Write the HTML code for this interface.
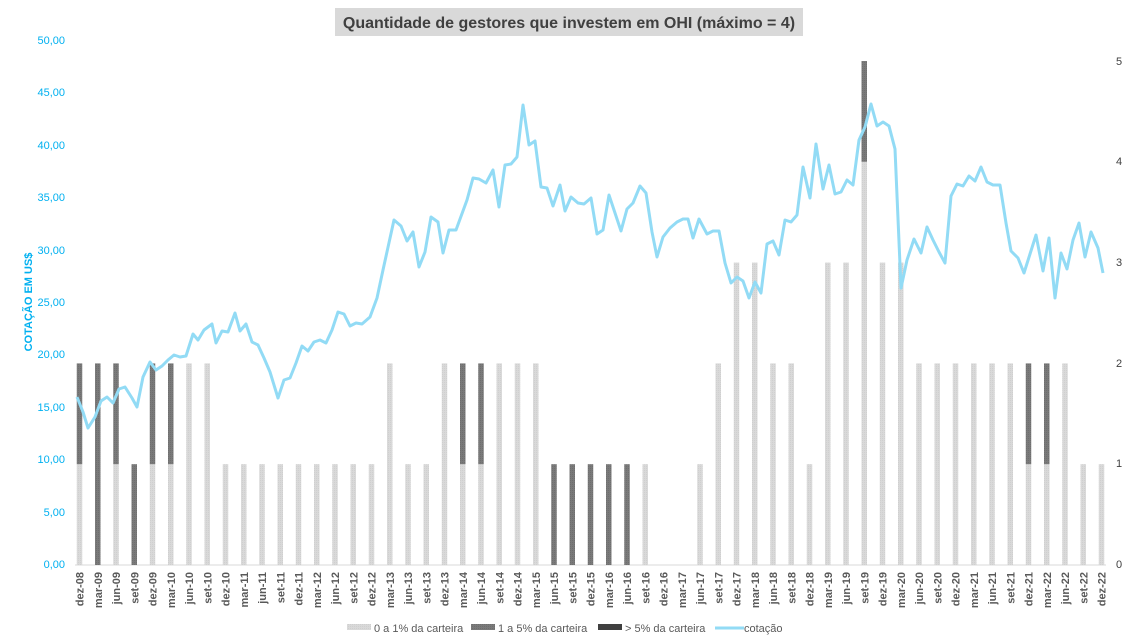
<!DOCTYPE html>
<html><head><meta charset="utf-8"><style>
body{margin:0;background:#fff;}
svg{display:block;font-family:"Liberation Sans",sans-serif;}
</style></head><body>
<svg width="1138" height="643" viewBox="0 0 1138 643" xmlns="http://www.w3.org/2000/svg">
<defs>
<pattern id="lt" width="2" height="2" patternUnits="userSpaceOnUse"><rect width="2" height="2" fill="#d9d9d9"/><rect width="1" height="1" fill="#cfcfcf"/></pattern>
<pattern id="dk" width="2" height="2" patternUnits="userSpaceOnUse"><rect width="2" height="2" fill="#7a7a7a"/><rect width="1" height="1" fill="#6e6e6e"/></pattern>
</defs>
<rect x="335" y="8" width="468" height="28" fill="#d9d9d9"/>
<text x="569" y="28" text-anchor="middle" font-size="16" font-weight="bold" fill="#404040">Quantidade de gestores que investem em OHI (máximo = 4)</text>
<g font-size="11" fill="#00b0f0" text-anchor="end">
<text x="65" y="44">50,00</text><text x="65" y="96">45,00</text><text x="65" y="149">40,00</text><text x="65" y="201">35,00</text><text x="65" y="254">30,00</text><text x="65" y="306">25,00</text><text x="65" y="358">20,00</text><text x="65" y="411">15,00</text><text x="65" y="463">10,00</text><text x="65" y="516">5,00</text><text x="65" y="568">0,00</text>
</g>
<text transform="translate(32,302) rotate(-90)" text-anchor="middle" font-size="11" font-weight="bold" fill="#00b0f0">COTAÇÃO EM US$</text>
<g font-size="11" fill="#404040">
<text x="1116" y="65">5</text><text x="1116" y="165">4</text><text x="1116" y="266">3</text><text x="1116" y="367">2</text><text x="1116" y="467">1</text><text x="1116" y="568">0</text>
</g>
<line x1="75" y1="565" x2="1106" y2="565" stroke="#d9d9d9" stroke-width="1"/>
<g id="bars"></g>
<polyline fill="none" stroke="#92dbf5" stroke-width="3" stroke-linejoin="round" points="77,397 83,412 88,428 95,417 101,401 107,397 113,403 119,389 125,387 132,398 137,407 143,377 150,362 156,370 162,366 168,360 174,355 180,357 186,356 193,334 198,340 204,330 212,324 216,343 222,331 228,332 235,313 240,331 246,324 252,342 258,345 264,358 270,372 278,398 284,380 290,378 296,363 302,346 308,351 314,342 320,340 326,343 332,330 338,312 344,314 350,326 356,323 362,324 370,317 377,298 383,270 394,220 401,226 407,241 413,232 419,267 425,252 431,217 438,222 443,253 449,230 456,230 467,200 473,178 479,179 486,183 493,170 499,207 505,165 511,164 517,157 523,105 529,145 535,141 541,187 547,188 553,206 560,185 565,211 571,197 578,203 584,204 591,198 597,234 603,230 609,195 615,213 621,231 627,209 633,203 640,186 646,193 652,232 657,257 663,237 670,228 677,222 683,219 688,219 693,238 699,219 707,234 713,231 719,231 725,263 731,283 737,277 743,281 749,298 755,282 761,293 767,244 773,241 779,255 785,220 791,222 797,215 803,167 810,198 816,144 823,189 829,165 835,194 841,192 847,180 853,185 859,140 865,127 871,104 877,126 883,122 889,126 895,149 901,288 907,260 914,239 921,253 927,227 933,240 939,252 945,263 951,196 957,184 963,186 969,176 975,181 981,167 987,182 993,185 1000,185 1006,223 1011,251 1018,258 1024,273 1030,254 1036,235 1043,271 1049,238 1055,298 1061,253 1067,269 1073,240 1079,223 1085,257 1091,232 1098,248 1103,273"/>
<g id="xl" font-size="11" font-weight="bold" fill="#595959"></g>
<g font-size="11" fill="#595959">
<rect x="347" y="624" width="24" height="6" fill="url(#lt)"/><text x="374" y="632">0 a 1% da carteira</text>
<rect x="471" y="624" width="24" height="6" fill="url(#dk)"/><text x="498" y="632">1 a 5% da carteira</text>
<rect x="598" y="624" width="24" height="6" fill="#404040"/><text x="625" y="632">&gt; 5% da carteira</text>
<line x1="715" y1="628" x2="744" y2="628" stroke="#92dbf5" stroke-width="3"/><text x="744" y="632">cotação</text>
</g>
</svg>
<script>
var L=[1,0,1,0,1,1,2,2,1,1,1,1,1,1,1,1,1,2,1,1,2,1,1,2,2,2,0,0,0,0,0,1,0,0,1,2,3,3,2,2,1,3,3,4,3,3,2,2,2,2,2,2,1,1,2,1,1];
var D=[1,2,1,1,1,1,0,0,0,0,0,0,0,0,0,0,0,0,0,0,0,1,1,0,0,0,1,1,1,1,1,0,0,0,0,0,0,0,0,0,0,0,0,1,0,0,0,0,0,0,0,0,1,1,0,0,0];
var m=["dez","mar","jun","set"],ns="http://www.w3.org/2000/svg",b=document.getElementById("bars"),xl=document.getElementById("xl");
function r(x,y,h,f){var e=document.createElementNS(ns,"rect");e.setAttribute("x",x);e.setAttribute("y",y);e.setAttribute("width",5.5);e.setAttribute("height",h);e.setAttribute("fill",f);b.appendChild(e);}
for(var i=0;i<57;i++){var cx=79.5+i*18.25,u=100.8,y=565;
if(L[i]){r(cx-2.75,y-L[i]*u,L[i]*u,"url(#lt)");y-=L[i]*u;}
if(D[i]){r(cx-2.75,y-D[i]*u,D[i]*u,"url(#dk)");}
var yr=8+Math.floor((i+3)/4);var t=document.createElementNS(ns,"text");
t.setAttribute("transform","translate("+(cx+4)+",572) rotate(-90)");t.setAttribute("text-anchor","end");
t.textContent=m[i%4]+"-"+(yr<10?"0"+yr:yr);xl.appendChild(t);}
</script>
</body></html>
